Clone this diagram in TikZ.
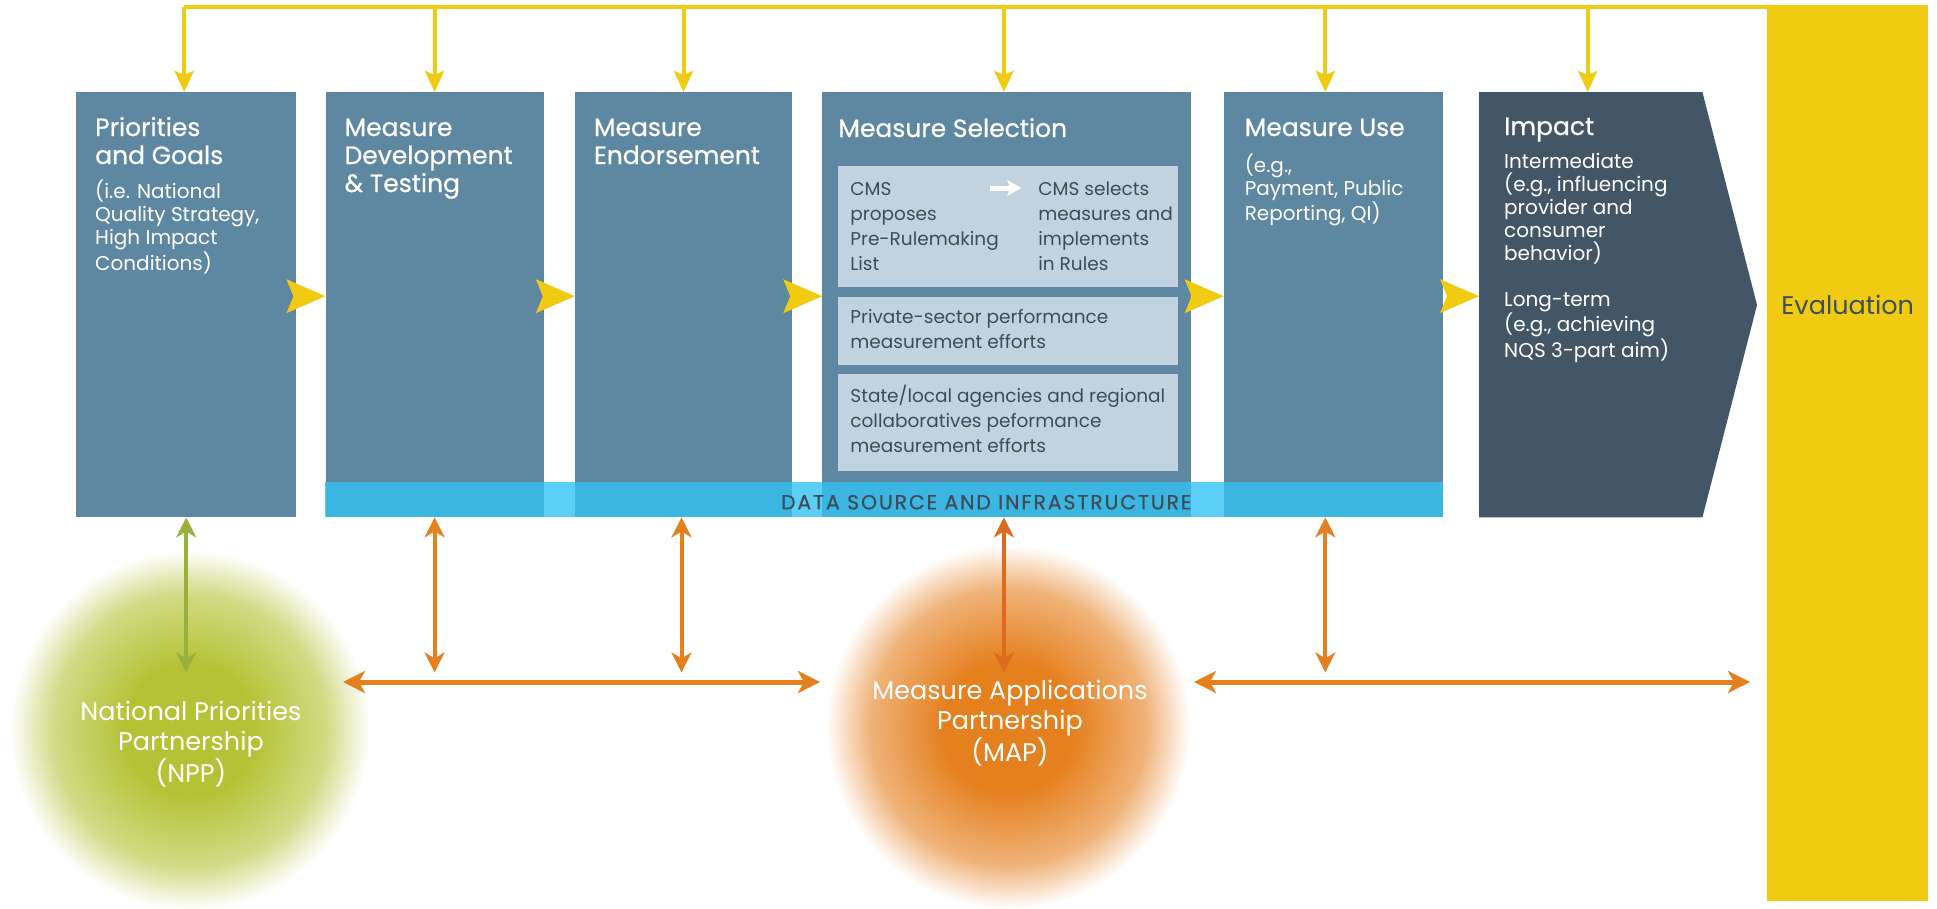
\documentclass[tikz,border=0pt]{standalone}
\usepackage{fontspec}
\setmainfont{Poppins}
\newfontfamily\headfont[FakeBold=0.7]{Poppins}
\newfontfamily\bandfont[LetterSpace=9,FakeBold=0.5]{Poppins}
\usetikzlibrary{arrows.meta,positioning}

\definecolor{stageblue}{HTML}{5E87A1}
\definecolor{impactslate}{HTML}{435667}
\definecolor{innerblue}{HTML}{C2D2DE}
\definecolor{innertext}{HTML}{3C4C59}
\definecolor{flowyellow}{HTML}{F0CB11}
\definecolor{linkorange}{HTML}{E5801F}
\definecolor{maporange}{HTML}{DD6A20}
\definecolor{linkgreen}{HTML}{99B03E}
\definecolor{nppgreen}{HTML}{B5C235}
\definecolor{mapglow}{HTML}{E5801F}
\definecolor{bandcyan}{RGB}{49,194,241}
\definecolor{evaltext}{HTML}{3D4F5E}

\pgfdeclareradialshading{nppglow}{\pgfpoint{0bp}{0bp}}{color(0bp)=(nppgreen); color(9bp)=(nppgreen); color(19bp)=(nppgreen!60!white); color(25bp)=(white); color(50bp)=(white)}
\pgfdeclareradialshading{mapglowing}{\pgfpoint{0bp}{0bp}}{color(0bp)=(mapglow); color(9bp)=(mapglow); color(19bp)=(mapglow!60!white); color(25bp)=(white); color(50bp)=(white)}

\begin{document}
\begin{tikzpicture}[x=1pt, y=-1pt,
	stage/.style={fill=stageblue, inner sep=0pt, anchor=north west, minimum height=425pt},
	ttl/.style={anchor=base west, align=left, text=white, inner sep=0pt, font=\headfont\fontsize{25}{28}\selectfont},
	sub/.style={anchor=base west, align=left, text=white, inner sep=0pt, font=\fontsize{20}{23}\selectfont},
	inbox/.style={fill=innerblue, inner sep=0pt, minimum width=340pt},
	intext/.style={anchor=base west, align=left, text=innertext, inner sep=0pt, font=\fontsize{18.5}{25}\selectfont},
	circtext/.style={anchor=base, align=center, text=white, inner sep=0pt, font=\fontsize{25.5}{30}\selectfont},
	yarrow/.style={draw=flowyellow, line width=4pt, -{Stealth[length=21pt, width=19pt, inset=4pt]}},
	varrow/.style={line width=4pt, {Stealth[length=20pt, width=20pt, inset=6pt]}-{Stealth[length=20pt, width=20pt, inset=6pt]}},
	harrow/.style={draw=linkorange, line width=5pt, {Stealth[length=22pt, width=22pt, inset=6pt]}-{Stealth[length=22pt, width=22pt, inset=6pt]}}]
	\useasboundingbox (0,0) rectangle (1937,908);

	\node[circle, minimum size=360pt, inner sep=0pt, shade, shading=nppglow] (npp) at (190,730) {};
	\node[circle, minimum size=364pt, inner sep=0pt, shade, shading=mapglowing] (map) at (1008,727) {};
	\node[circtext] (npplbl) at (191,782) {National Priorities\\Partnership\\(NPP)};
	\node[circtext] (maplbl) at (1010,761) {Measure Applications\\Partnership\\(MAP)};

	\node[stage, minimum width=220pt] (prio) at (76,92) {};
	\node[stage, minimum width=218pt, right=29pt of prio] (dev) {};
	\node[stage, minimum width=217pt, right=31pt of dev] (endo) {};
	\node[stage, minimum width=369pt, right=30pt of endo] (sel) {};
	\node[stage, minimum width=219pt, right=32pt of sel] (use) {};
	\node[stage, fill=none, minimum width=223pt, right=36pt of use] (impact) {};
	\fill[impactslate] (impact.north west) -- (impact.north east) -- (1757,305) -- (impact.south east) -- (impact.south west) -- cycle;
	\node[fill=flowyellow, inner sep=0pt, anchor=north west, minimum width=161pt, minimum height=896pt] (evalbar) at (1767,5) {};

	\fill[bandcyan, fill opacity=0.8] (dev.south west) rectangle (use.south east |- 0,482);
	\node[anchor=base east, inner sep=0pt, text=innertext, font=\bandfont\fontsize{20.5}{22}\selectfont] (dsi) at ([yshift=8pt]sel.south east) {DATA SOURCE AND INFRASTRUCTURE};

	\node[ttl] (prioT) at ([shift={(19,72)}]prio.north west) {Priorities\\and Goals};
	\node[sub] (prioS) at ([shift={(19,178)}]prio.north west) {(i.e. National\\Quality Strategy,\\High Impact\\Conditions)};
	\node[ttl] (devT) at ([shift={(19,100)}]dev.north west) {Measure\\Development\\\& Testing};
	\node[ttl] (endoT) at ([shift={(19,72)}]endo.north west) {Measure\\Endorsement};
	\node[ttl] (selT) at ([shift={(16,45)}]sel.north west) {Measure Selection};
	\node[ttl] (useT) at ([shift={(21,44)}]use.north west) {Measure Use};
	\node[sub] (useS) at ([shift={(21,128)}]use.north west) {(e.g.,\\Payment, Public\\Reporting, QI)};
	\node[ttl] (impactT) at ([shift={(25,43)}]impact.north west) {Impact};
	\node[sub] (impactS) at ([shift={(25,265)}]impact.north west) {Intermediate\\(e.g., influencing\\provider and\\consumer\\behavior)\\[23pt]Long-term\\(e.g., achieving\\NQS 3-part aim)};
	\node[text=evaltext, inner sep=0pt, font=\fontsize{25.5}{28}\selectfont] (evalT) at (evalbar.center |- impact.east) {Evaluation};

	\node[inbox, minimum height=121pt, anchor=north west] (cms) at ([shift={(16,74)}]sel.north west) {};
	\node[inbox, minimum height=68pt, below=9pt of cms] (priv) {};
	\node[inbox, minimum height=97pt, below=9pt of priv] (state) {};
	\node[intext] (cmsL) at ([shift={(12,104)}]cms.north west) {CMS\\proposes\\Pre-Rulemaking\\List};
	\node[intext] (cmsR) at ([shift={(200,104)}]cms.north west) {CMS selects\\measures and\\implements\\in Rules};
	\coordinate (wa) at ([shift={(152,22)}]cms.north west);
	\draw[white, line width=5pt, -{Stealth[length=14pt, width=16pt, inset=3pt]}] (wa) -- ++(31,0);
	\node[intext] (privT) at ([shift={(12,52)}]priv.north west) {Private-sector performance\\measurement efforts};
	\node[intext] (stateT) at ([shift={(12,79)}]state.north west) {State/local agencies and regional\\collaboratives peformance\\measurement efforts};

	\draw[flowyellow, line width=4pt, line cap=rect] (prio.north |- 0,7) -- (evalbar.west |- 0,7);
	\foreach \s/\d in {prio/-2,dev/0,endo/0,sel/-3,use/-8,impact/-3}
		\draw[yarrow] ([xshift=\d pt]\s.north) ++(0,-85) -- ([xshift=\d pt]\s.north);
	\foreach \s in {dev,endo,sel,use,impact}
		\fill[flowyellow] (\s.west) ++(0,-8.5) -- ++(-39,-17) -- ++(7,17) -- ++(-7,17) -- cycle;

	\draw[varrow, draw=linkgreen] (prio.south) -- ++(0,155);
	\draw[varrow, draw=linkorange] (dev.south) -- ++(0,155);
	\draw[varrow, draw=linkorange] ([xshift=-2pt]endo.south) -- ++(0,155);
	\draw[varrow, draw=maporange] ([xshift=-3pt]sel.south) -- ++(0,155);
	\draw[varrow, draw=linkorange] ([xshift=-8pt]use.south) -- ++(0,155);

	\coordinate (h1) at (343,682);
	\coordinate (h2) at (820,682);
	\coordinate (h3) at (1194,682);
	\coordinate (h4) at (1750,682);
	\draw[harrow] (h1) -- (h2);
	\draw[harrow] (h3) -- (h4);
\end{tikzpicture}
\end{document}
